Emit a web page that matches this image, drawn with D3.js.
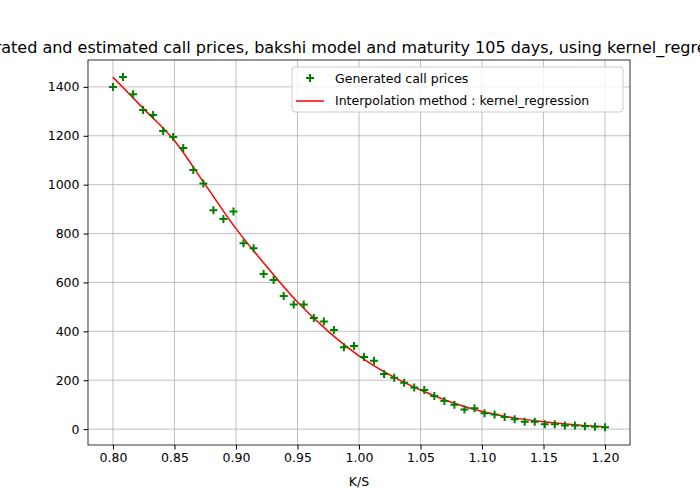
<!DOCTYPE html>
<html><head><meta charset="utf-8">
<script src="https://cdn.jsdelivr.net/npm/d3@7"></script>
<style>body{margin:0;background:#fff}text{font-family:"DejaVu Sans",sans-serif}</style>
</head><body>
<script>
// scattered generated prices
var strikes = d3.range(50).map(function (i) { return 0.8 + i * 0.4 / 49; });
var prices = [1400,1440,1370,1305,1285,1220,1195,1150,1060,1005,
  895,860,890,760,740,635,610,545,510,510,
  455,440,405,335,340,295,280,225,210,190,
  170,160,135,115,100,80,85,65,60,50,
  40,30,30,20,20,15,15,12,10,8];
// interpolated curve
var curveX = [0.80,0.825,0.85,0.875,0.90,0.925,0.95,0.975,1.0,1.025,1.05,1.075,1.10,1.125,1.15,1.175,1.20];
var curveY = [1440,1310,1180,1000,820,665,520,400,300,222,160,110,72,47,30,18,10];
var xTicks = [0.80,0.85,0.90,0.95,1.00,1.05,1.10,1.15,1.20];
var yTicks = [0,200,400,600,800,1000,1200,1400];

var svg = d3.select('body').append('svg').attr('width',700).attr('height',500);
var L=88,R=630,T=60,B=445;
var x = d3.scaleLinear().domain([0.7797,1.2203]).range([L,R]);
var y = d3.scaleLinear().domain([-65,1510]).range([B,T]);

// grid
svg.append('g').selectAll('line').data(xTicks).enter().append('line')
  .attr('x1',function(d){return x(d);}).attr('x2',function(d){return x(d);})
  .attr('y1',T).attr('y2',B).attr('stroke','#b0b0b0').attr('stroke-width',0.8);
svg.append('g').selectAll('line').data(yTicks).enter().append('line')
  .attr('y1',function(d){return y(d);}).attr('y2',function(d){return y(d);})
  .attr('x1',L).attr('x2',R).attr('stroke','#b0b0b0').attr('stroke-width',0.8);

var xa = svg.append('g').attr('transform','translate(0,'+B+')')
  .call(d3.axisBottom(x).tickValues(xTicks).tickFormat(d3.format('.2f')).tickSize(4.5).tickPadding(4));
var ya = svg.append('g').attr('transform','translate('+L+',0)')
  .call(d3.axisLeft(y).tickValues(yTicks).tickFormat(d3.format('d')).tickSize(4.5).tickPadding(4));
[xa,ya].forEach(function(a){
  a.select('.domain').remove();
  a.selectAll('text').attr('font-size',12.5).attr('fill','#000').style('font-family','DejaVu Sans');
  a.selectAll('line').attr('stroke','#000');
});
svg.append('rect').attr('x',L).attr('y',T).attr('width',R-L).attr('height',B-T)
  .attr('fill','none').attr('stroke','#000').attr('stroke-width',0.8);

// curve
var line = d3.line().x(function(d){return x(d[0]);}).y(function(d){return y(d[1]);}).curve(d3.curveMonotoneX);
svg.append('path').datum(d3.zip(curveX,curveY)).attr('d',line)
  .attr('fill','none').attr('stroke','red').attr('stroke-width',1.5);

// markers
svg.append('g').selectAll('path').data(d3.zip(strikes,prices)).enter().append('path')
  .attr('transform',function(d){return 'translate('+x(d[0])+','+y(d[1])+')';})
  .attr('d','M-4,0H4M0,-4V4').attr('stroke','green').attr('stroke-width',2).attr('fill','none');

// title and labels
svg.append('text').attr('x',350).attr('y',53).attr('text-anchor','middle').attr('font-size',16)
  .text('Generated and estimated call prices, bakshi model and maturity 105 days, using kernel_regression');
svg.append('text').attr('x',359).attr('y',486).attr('text-anchor','middle').attr('font-size',12.5).text('K/S');

// legend
var lg = svg.append('g');
lg.append('rect').attr('x',292).attr('y',67).attr('width',331).attr('height',45).attr('rx',3)
  .attr('fill','#fff').attr('fill-opacity',0.8).attr('stroke','#ccc');
lg.append('path').attr('d','M306,78H314M310,74V82').attr('stroke','green').attr('stroke-width',2);
lg.append('text').attr('x',335).attr('y',83).attr('font-size',12.5).text('Generated call prices');
lg.append('line').attr('x1',296).attr('x2',324).attr('y1',101).attr('y2',101).attr('stroke','red').attr('stroke-width',1.5);
lg.append('text').attr('x',335).attr('y',105).attr('font-size',12.5).text('Interpolation method : kernel_regression');
</script>
</body></html>
